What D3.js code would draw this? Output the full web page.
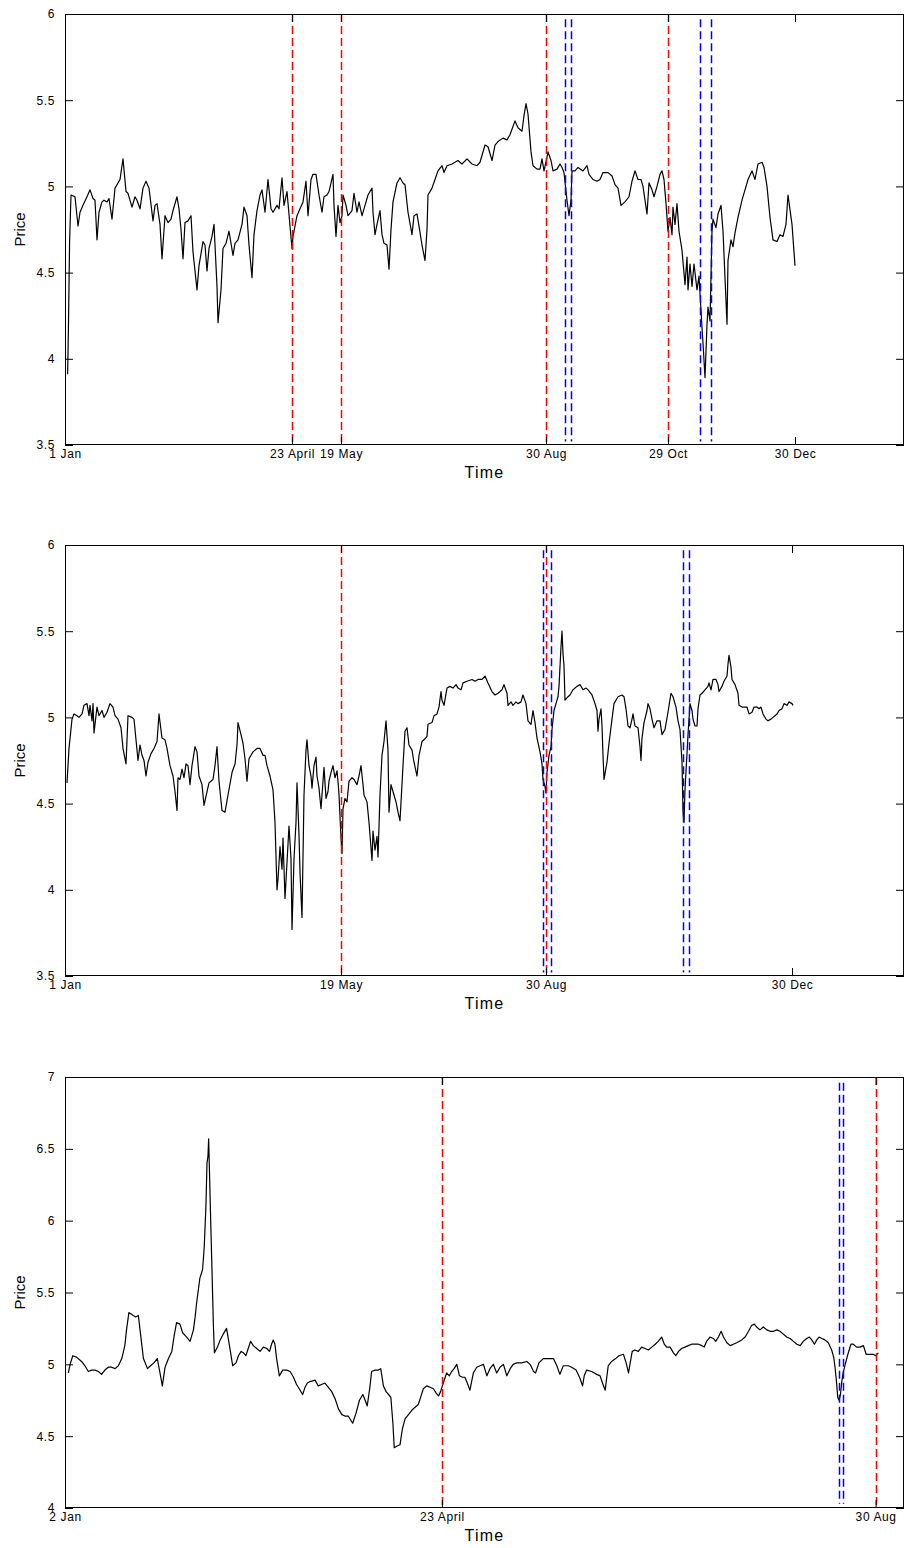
<!DOCTYPE html>
<html>
<head>
<meta charset="utf-8">
<script src="https://cdn.jsdelivr.net/npm/d3@7/dist/d3.min.js"></script>
<style>
body { margin: 0; background: #fff; }
svg { display: block; }
.tick text { font-family: 'Liberation Sans', Arial, sans-serif; font-size: 12px; letter-spacing: 0.6px; fill: #000; }
.tick line { stroke: #000; }
.axis-title { font-family: 'Liberation Sans', Arial, sans-serif; fill: #000; }
</style>
</head>
<body>
<svg id="chart" width="909" height="1548"></svg>
<script>

// Panel 1 : [day, price]

var series1 = [[1.3,3.91],[1.7,4.17],[2.3,4.68],[3,4.95],[5,4.94],[6.5,4.77],[7.5,4.85],[9,4.89],[11,4.94],[12.5,4.98],[14,4.93],[15,4.92],[16,4.69],[17,4.85],[18.5,4.91],[19.5,4.92],[21,4.91],[22,4.93],[23.5,4.81],[25,4.99],[27.5,5.04],[29,5.16],[30.5,4.97],[31.5,4.96],[33.5,4.88],[35,4.94],[36,4.92],[37.5,4.87],[39,4.99],[40.5,5.03],[42,4.99],[44,4.80],[45,4.89],[46,4.90],[47.5,4.78],[48.5,4.58],[50,4.83],[51.5,4.79],[53,4.81],[54,4.86],[56,4.94],[57,4.87],[58,4.75],[59,4.58],[60,4.79],[61.5,4.80],[63,4.83],[64,4.62],[66,4.40],[67,4.54],[69,4.68],[70,4.66],[71,4.51],[72,4.64],[73.5,4.71],[74.5,4.78],[76,4.42],[76.5,4.21],[78,4.40],[79,4.64],[80.5,4.67],[82,4.74],[84,4.60],[85,4.67],[86.5,4.69],[88.5,4.78],[89.5,4.88],[91,4.83],[92,4.66],[93.5,4.47],[94.5,4.72],[96,4.86],[97.5,4.95],[98.5,4.98],[100,4.85],[101.5,5.04],[103,4.87],[104,4.85],[106,4.89],[107,4.87],[108.5,5.05],[109.5,4.89],[111,4.97],[112.5,4.77],[113.5,4.64],[114,4.71],[116,4.83],[117.5,4.87],[119,4.91],[120.5,5.03],[121.5,4.83],[123,5.04],[124,5.07],[125.5,5.07],[127,4.95],[128.5,4.85],[129.5,4.94],[131,4.95],[132,4.97],[134,5.07],[134.5,4.89],[135.5,4.71],[136.5,4.89],[137.5,4.79],[138.5,4.83],[139,4.95],[140.5,4.89],[141.5,4.83],[143.5,4.86],[144.5,4.96],[146,4.85],[147,4.91],[148.5,4.83],[150,4.89],[151.5,4.95],[153.5,4.99],[154,4.85],[155,4.72],[156,4.78],[157.5,4.86],[158.5,4.72],[159.5,4.67],[161,4.66],[162,4.52],[163,4.75],[164,4.91],[166,5.02],[167.5,5.05],[169,5.02],[170,5.01],[171.5,4.85],[173.5,4.72],[174.5,4.83],[176,4.84],[177,4.77],[178.5,4.66],[180,4.57],[181,4.75],[181.5,4.95],[183.5,4.99],[185,5.04],[186.5,5.09],[188.5,5.12],[189.5,5.08],[191,5.12],[193.5,5.13],[195,5.14],[196.5,5.15],[198.5,5.13],[201,5.16],[203.5,5.13],[206,5.12],[207.5,5.14],[210,5.24],[211.5,5.23],[213.5,5.15],[215,5.24],[216.5,5.26],[219,5.28],[221,5.27],[222.5,5.30],[225,5.38],[226.5,5.34],[228.5,5.32],[229.5,5.41],[230.5,5.48],[231.5,5.42],[233,5.20],[234,5.12],[236,5.10],[237.5,5.10],[238.5,5.16],[239.5,5.09],[241,5.17],[241.5,5.20],[243,5.15],[244,5.09],[246,5.10],[247.5,5.13],[248.5,5.11],[249.5,5.08],[251,4.92],[252,4.83],[253,4.92],[253.5,5.09],[255,5.09],[256.5,5.11],[259,5.09],[261,5.12],[262,5.07],[264,5.04],[266,5.03],[267.5,5.04],[269,5.08],[271.5,5.08],[273.5,5.06],[275,5.01],[276.5,4.99],[278,4.89],[280,4.91],[282,4.94],[283.5,5.03],[285,5.09],[286.5,5.04],[288,5.04],[289,5.00],[290,4.92],[291,4.84],[292,5.02],[293.5,4.98],[294.5,4.94],[296,5.00],[297.5,5.07],[298.5,5.09],[299.5,5.04],[300.5,4.90],[301.5,4.74],[302.5,4.82],[303.5,4.72],[304,4.88],[305,4.78],[306,4.90],[307,4.74],[308.5,4.63],[310,4.43],[311,4.59],[311.5,4.40],[312.5,4.55],[313.5,4.42],[314.5,4.55],[316,4.40],[317,4.48],[317.5,4.38],[318.5,4.18],[319,4.09],[320,3.89],[321,4.20],[321.5,4.30],[322.5,4.22],[323.5,4.74],[324,4.81],[325.5,4.76],[326.5,4.84],[328,4.89],[329,4.74],[330,4.47],[331,4.20],[331.5,4.57],[333,4.69],[334,4.65],[335,4.73],[336.5,4.82],[338.5,4.92],[340,4.98],[341.5,5.04],[343.5,5.09],[345,5.04],[346.5,5.13],[348.5,5.14],[349.5,5.11],[351,5.00],[352.5,4.82],[354,4.69],[356,4.68],[357.5,4.72],[359,4.71],[360.5,4.78],[361.5,4.95],[363.5,4.78],[365,4.54]];

var xLim1 = [0, 419.5];
var yLim1 = [3.5, 6];
var yTicks1 = [3.5, 4, 4.5, 5, 5.5, 6];
var xTicks1 = [0, 113.5, 138, 240.5, 301.5, 365];
var xLabels1 = ['1 Jan', '23 April', '19 May', '30 Aug', '29 Oct', '30 Dec'];
var red1 = [113.5, 138, 240.5, 301.5];
var blue1 = [250, 253, 317.5, 323];
var blueSpan1 = [3.52, 5.97];

// Panel 2

var series2 = [[1,4.62],[2,4.82],[3.5,4.99],[4.5,5.02],[6,5.01],[7,5.00],[8.5,5.02],[9.5,5.07],[11,5.08],[12,5.01],[12.5,5.07],[13.5,4.98],[14,5.08],[14.5,4.91],[16,5.06],[17,5.01],[18.5,5.04],[19.5,5.00],[21,5.03],[22.5,5.08],[24,5.06],[25,5.01],[26.5,4.99],[28,4.94],[29,4.82],[30.5,4.73],[31.5,5.01],[33.5,5.00],[34.5,4.99],[35.5,4.87],[36.5,4.75],[37.5,4.84],[38.5,4.78],[39.5,4.75],[40.5,4.66],[41.5,4.74],[43,4.79],[44.5,4.82],[46,4.86],[47,5.02],[48.5,4.88],[50,4.87],[51,4.82],[52.5,4.72],[54,4.66],[55,4.57],[56,4.46],[56.5,4.65],[57.5,4.64],[58.5,4.70],[59.5,4.65],[60.5,4.73],[61.5,4.72],[62.5,4.61],[63.5,4.72],[65,4.83],[66,4.80],[67,4.66],[68.5,4.61],[69.5,4.49],[71,4.57],[72,4.62],[74,4.64],[75,4.72],[76,4.83],[77,4.63],[78.5,4.46],[80,4.45],[81.5,4.55],[83.5,4.68],[85,4.73],[86,4.84],[86.5,4.97],[88,4.90],[89,4.85],[90,4.76],[91,4.63],[92,4.76],[94,4.80],[96,4.82],[97.5,4.82],[99,4.78],[100,4.78],[101,4.72],[102.5,4.66],[104,4.58],[105,4.39],[106,4.00],[106.5,4.06],[107.5,4.25],[108.5,4.12],[109,4.30],[110,3.95],[111,4.16],[112,4.37],[113,4.18],[113.5,3.77],[114.5,4.18],[115.5,4.39],[116,4.62],[117,4.32],[117.5,4.10],[118.5,3.84],[119.5,4.55],[120.5,4.81],[121,4.87],[122,4.72],[123,4.66],[123.5,4.59],[124.5,4.72],[125.5,4.77],[126,4.66],[127,4.59],[128,4.47],[129,4.63],[129.5,4.71],[130.5,4.53],[131.5,4.57],[132,4.63],[133,4.68],[134,4.72],[135,4.65],[136,4.69],[136.5,4.63],[137,4.55],[138,4.30],[138.5,4.21],[139,4.47],[140,4.53],[141,4.51],[142,4.63],[143.5,4.65],[144.5,4.64],[146,4.61],[147,4.66],[148,4.72],[149,4.61],[149.5,4.55],[151,4.51],[152,4.39],[153.5,4.17],[154,4.34],[155,4.23],[156,4.31],[156.5,4.19],[157.5,4.55],[158.5,4.78],[159.5,4.86],[160.5,4.98],[161.5,4.81],[162,4.45],[163,4.61],[164,4.57],[165.5,4.51],[166.5,4.45],[167.5,4.40],[169,4.72],[170,4.92],[171,4.94],[172,4.84],[173.5,4.81],[174.5,4.74],[176,4.66],[177,4.78],[178.5,4.86],[179.5,4.87],[181,4.89],[181.5,4.96],[183.5,4.97],[184.5,5.01],[186,5.02],[187,5.06],[188,5.15],[188.5,5.10],[189.5,5.07],[191,5.17],[192.5,5.18],[194,5.17],[195.5,5.19],[196.5,5.17],[198,5.16],[199,5.20],[201,5.21],[203.5,5.22],[205,5.21],[206.5,5.22],[208.5,5.22],[210,5.24],[211.5,5.20],[213.5,5.15],[215,5.13],[216.5,5.14],[218.5,5.16],[219.5,5.19],[221,5.14],[221.5,5.07],[223,5.09],[224,5.07],[225.5,5.09],[226.5,5.08],[228,5.09],[229,5.13],[230.5,5.08],[231.5,4.98],[233,4.96],[234,5.04],[235,4.97],[236,4.88],[237.5,4.80],[238.5,4.73],[239,4.64],[240,4.60],[240.5,4.56],[241,4.68],[242,4.78],[243,4.83],[243.5,4.93],[244.5,5.04],[245.5,5.08],[246.5,5.12],[247,5.18],[248,5.41],[248.5,5.50],[249,5.37],[249.5,5.30],[250,5.10],[251.5,5.12],[252.5,5.13],[254,5.16],[256,5.18],[257.5,5.19],[259,5.16],[260.5,5.17],[261.5,5.16],[263.5,5.13],[265,5.08],[266,5.04],[266.5,4.92],[267,4.99],[268,5.05],[268.5,4.95],[269,4.78],[269.5,4.64],[271,4.74],[272,4.85],[273.5,4.99],[274.5,5.08],[276.5,5.12],[278.5,5.13],[279.5,5.12],[280.5,5.05],[281.5,4.95],[282.5,4.94],[283.5,4.99],[284,5.02],[285,4.95],[286.5,4.94],[287.5,4.83],[288,4.75],[288.5,4.88],[289.5,4.97],[291,5.04],[291.5,5.08],[292.5,5.05],[293.5,4.99],[294.5,4.94],[296,4.98],[297.5,4.98],[298.5,4.90],[300,4.93],[301.5,5.03],[303,5.14],[304,5.12],[305.5,5.06],[306.5,4.98],[307.5,4.93],[308.5,4.74],[309,4.45],[309.5,4.39],[310,4.58],[311,4.79],[311.5,4.90],[312.5,5.08],[313.5,5.04],[314,4.99],[315,4.95],[316,4.95],[316.5,5.05],[317.5,5.13],[318.5,5.14],[320,5.16],[321.5,5.18],[322,5.20],[323,5.16],[324,5.22],[325.5,5.22],[326.5,5.19],[327,5.15],[328.5,5.18],[329.5,5.21],[331,5.24],[331.5,5.31],[332,5.36],[333,5.29],[333.5,5.22],[335,5.19],[336.5,5.14],[337,5.07],[338.5,5.06],[339.5,5.06],[341,5.06],[342,5.02],[343.5,5.03],[344.5,5.06],[346,5.06],[347,5.05],[348,5.06],[349,5.02],[350.5,4.99],[351.5,4.98],[353,4.99],[354,5.00],[356,5.02],[357,5.04],[358.5,5.05],[359.5,5.08],[361,5.07],[362,5.09],[363.5,5.08],[364,5.07]];

var xLim2 = [0, 419.5];
var yLim2 = [3.5, 6];
var yTicks2 = [3.5, 4, 4.5, 5, 5.5, 6];
var xTicks2 = [0, 138, 240.5, 363.5];
var xLabels2 = ['1 Jan', '19 May', '30 Aug', '30 Dec'];
var red2 = [138, 240.5];
var blue2 = [239, 243, 309, 312];
var blueSpan2 = [3.52, 5.97];

// Panel 3

var series3 = [[2,4.94],[2.5,5.00],[3.3,5.06],[4.4,5.05],[5.9,5.02],[6.9,4.99],[7.9,4.95],[8.9,4.96],[9.9,4.96],[10.9,4.95],[11.8,4.93],[12.8,4.96],[13.8,4.98],[14.8,4.98],[15.8,4.97],[16.8,4.99],[17.8,5.04],[18.7,5.13],[19.2,5.24],[19.9,5.36],[21.2,5.34],[21.9,5.33],[22.7,5.34],[23.2,5.24],[24.2,5.04],[25.4,4.97],[26.3,4.99],[27.3,5.01],[28.3,5.04],[29.1,4.94],[29.8,4.85],[30.6,4.98],[31.6,5.04],[32.6,5.09],[33.3,5.20],[34,5.29],[35,5.28],[35.8,5.22],[37,5.19],[38,5.16],[39,5.24],[39.5,5.33],[39.9,5.42],[40.9,5.60],[41.7,5.66],[42.2,5.82],[42.7,6.11],[43,6.40],[43.3,6.45],[43.5,6.57],[43.7,6.38],[44.1,6.00],[44.5,5.64],[44.9,5.27],[45.2,5.08],[46.1,5.12],[46.9,5.17],[47.8,5.21],[48.8,5.25],[49.8,5.11],[50.6,4.99],[51.6,5.01],[52.3,5.06],[53.1,5.09],[53.8,5.08],[54.5,5.06],[55.2,5.11],[55.9,5.16],[56.7,5.13],[57.7,5.11],[58.7,5.09],[59.7,5.12],[60.7,5.11],[61.5,5.09],[62.1,5.14],[62.6,5.17],[63.1,5.14],[63.6,5.04],[64.4,4.92],[65.4,4.96],[66.6,4.96],[67.6,4.95],[68.6,4.91],[69.5,4.86],[70.3,4.83],[71.3,4.79],[72,4.84],[72.7,4.87],[73.5,4.88],[75,4.89],[75.9,4.85],[76.9,4.86],[77.9,4.87],[78.9,4.84],[79.9,4.81],[80.9,4.76],[81.9,4.69],[82.9,4.65],[83.8,4.64],[84.8,4.64],[86.1,4.59],[87.1,4.66],[88.1,4.75],[89.1,4.79],[89.8,4.75],[90.4,4.71],[91.2,4.84],[91.7,4.95],[92.7,4.96],[93.7,4.96],[94.4,4.97],[95.2,4.85],[96,4.81],[96.7,4.79],[97.4,4.77],[98,4.59],[98.4,4.42],[99.1,4.43],[100.1,4.44],[100.8,4.55],[101.6,4.62],[102.6,4.65],[103.6,4.68],[104.5,4.70],[105.5,4.72],[106.2,4.77],[107,4.83],[108,4.85],[109,4.84],[110,4.83],[110.8,4.80],[111.5,4.78],[112.1,4.81],[112.9,4.87],[113.9,4.94],[114.7,4.92],[115.4,4.95],[116.1,4.97],[116.9,5.00],[117.7,4.92],[118.6,4.91],[119.3,4.91],[120,4.87],[120.8,4.82],[121.8,4.94],[122.8,4.98],[123.8,4.99],[124.8,5.00],[125.8,4.92],[126.7,4.97],[127.7,5.00],[128.7,4.94],[129.7,4.98],[130.7,5.00],[131.7,4.92],[132.7,4.97],[133.6,5.00],[134.6,5.01],[136.1,5.01],[137.6,5.02],[138.6,5.00],[139.6,4.95],[140.2,4.94],[141.2,5.01],[142.5,5.04],[144,5.04],[145.5,5.04],[146.5,4.99],[147.4,4.93],[148.4,4.99],[149.9,4.99],[150.9,4.98],[152.2,4.96],[153.4,4.90],[154.1,4.85],[154.6,4.92],[155.3,4.96],[156.8,4.95],[158.3,4.93],[159.3,4.92],[160,4.87],[160.8,4.82],[161.7,4.99],[162.7,5.02],[163.9,5.04],[164.9,5.06],[166.2,5.07],[167,5.01],[167.7,4.94],[168.2,5.01],[168.8,5.09],[169.6,5.10],[170.6,5.09],[171.6,5.12],[172.6,5.11],[173.6,5.10],[174.6,5.12],[175.6,5.14],[176.5,5.16],[177.5,5.19],[178.3,5.14],[179,5.12],[180,5.12],[181,5.08],[181.7,5.06],[182.5,5.09],[183.4,5.11],[184.4,5.12],[185.4,5.13],[186.4,5.14],[187.4,5.14],[188.4,5.14],[189.4,5.13],[190.1,5.12],[190.8,5.16],[191.8,5.19],[192.8,5.18],[193.5,5.16],[194.3,5.19],[195.1,5.23],[195.8,5.19],[196.8,5.15],[197.8,5.13],[198.7,5.14],[199.7,5.15],[201.2,5.17],[202.2,5.19],[203.2,5.23],[204.1,5.27],[204.9,5.28],[205.6,5.26],[206.6,5.24],[207.6,5.26],[208.6,5.24],[209.6,5.23],[210.6,5.23],[211.6,5.24],[212.5,5.23],[213.5,5.21],[214.5,5.19],[215.5,5.18],[216.5,5.16],[217.5,5.14],[218.5,5.13],[219.4,5.16],[220.4,5.18],[221.2,5.19],[221.9,5.17],[222.7,5.14],[223.4,5.17],[224.1,5.19],[224.9,5.18],[225.8,5.17],[226.8,5.15],[227.8,5.10],[228.4,5.05],[228.8,4.98],[229.3,4.86],[229.6,4.77],[230,4.75],[230.4,4.79],[230.8,4.88],[231.2,4.94],[231.8,5.00],[232.6,5.07],[233.5,5.14],[234.2,5.14],[235.2,5.12],[236.2,5.12],[237.2,5.13],[238,5.07],[239.2,5.07],[240.1,5.07],[240.8,5.06],[241.6,5.08]];

var xLim3 = [1, 249.2];
var yLim3 = [4, 7];
var yTicks3 = [4, 4.5, 5, 5.5, 6, 6.5, 7];
var xTicks3 = [1, 112.5, 240.8];
var xLabels3 = ['2 Jan', '23 April', '30 Aug'];
var red3 = [112.5, 240.8];
var blue3 = [230, 231.1];
var blueSpan3 = [4.03, 6.96];


var svg = d3.select('#chart');

var left = 65,
	right = 904,
	plotH = 431,
	tickLen = 8;

// snap a vertical marker to the pixel grid so dashes stay crisp
function snap(v) { return Math.round(v) + 0.5; }

function drawPanel(top, series, xLim, yLim, yTicks, xTicks, xLabels, redDays, blueDays, blueSpan) {

	var g = svg.append('g')
		.attr('transform', 'translate(0,' + top + ')');

	var x = d3.scaleLinear().domain(xLim).range([left, right]);
	var y = d3.scaleLinear().domain(yLim).range([plotH, 0]);

	// price line

	var line = d3.line()
		.x(function(d){ return x(d[0]); })
		.y(function(d){ return y(d[1]); });

	g.append('path')
		.datum(series)
		.attr('d', line)
		.attr('fill', 'none')
		.attr('stroke', '#000')
		.attr('stroke-width', 1.2)
		.attr('stroke-linejoin', 'round');

	// red and blue dashed markers

	g.selectAll('line.red')
		.data(redDays)
		.enter().append('line')
		.attr('class', 'red')
		.attr('x1', function(d){ return snap(x(d)); })
		.attr('x2', function(d){ return snap(x(d)); })
		.attr('y1', y(yLim[1]))
		.attr('y2', y(yLim[0]))
		.attr('stroke', '#ff0000')
		.attr('stroke-width', 1.5)
		.attr('stroke-dasharray', '8,4');

	g.selectAll('line.blue')
		.data(blueDays)
		.enter().append('line')
		.attr('class', 'blue')
		.attr('x1', function(d){ return snap(x(d)); })
		.attr('x2', function(d){ return snap(x(d)); })
		.attr('y1', y(blueSpan[1]))
		.attr('y2', y(blueSpan[0]))
		.attr('stroke', '#0000ff')
		.attr('stroke-width', 1.5)
		.attr('stroke-dasharray', '8,4');

	// axes, ticks pointing inward

	g.append('g')
		.attr('transform', 'translate(0,' + plotH + ')')
		.call(d3.axisBottom(x).tickValues(xTicks)
			.tickFormat(function(d, i){ return xLabels[i]; })
			.tickSizeInner(-tickLen).tickSizeOuter(0).tickPadding(4))
		.call(function(a){ a.select('.domain').remove(); });

	g.append('g')
		.call(d3.axisTop(x).tickValues(xTicks).tickFormat('')
			.tickSizeInner(-tickLen).tickSizeOuter(0))
		.call(function(a){ a.select('.domain').remove(); });

	g.append('g')
		.attr('transform', 'translate(' + left + ',0)')
		.call(d3.axisLeft(y).tickValues(yTicks).tickFormat(d3.format(''))
			.tickSizeInner(-tickLen).tickSizeOuter(0).tickPadding(10))
		.call(function(a){ a.select('.domain').remove(); });

	g.append('g')
		.attr('transform', 'translate(' + right + ',0)')
		.call(d3.axisRight(y).tickValues(yTicks).tickFormat('')
			.tickSizeInner(-tickLen).tickSizeOuter(0))
		.call(function(a){ a.select('.domain').remove(); });

	g.append('rect')
		.attr('x', left + 0.5)
		.attr('y', 0.5)
		.attr('width', right - left - 1)
		.attr('height', plotH - 1)
		.attr('fill', 'none')
		.attr('stroke', '#000')
		.attr('stroke-width', 1);

	// axis titles

	g.append('text')
		.attr('class', 'axis-title')
		.attr('x', (left + right) / 2)
		.attr('y', plotH + 33)
		.attr('text-anchor', 'middle')
		.style('font-size', '16px')
		.style('letter-spacing', '1.3px')
		.text('Time');

	g.append('text')
		.attr('class', 'axis-title')
		.attr('transform', 'translate(25,' + (plotH / 2) + ') rotate(-90)')
		.attr('text-anchor', 'middle')
		.style('font-size', '15px')
		.text('Price');
}

drawPanel(14, series1, xLim1, yLim1, yTicks1, xTicks1, xLabels1, red1, blue1, blueSpan1);
drawPanel(545, series2, xLim2, yLim2, yTicks2, xTicks2, xLabels2, red2, blue2, blueSpan2);
drawPanel(1077, series3, xLim3, yLim3, yTicks3, xTicks3, xLabels3, red3, blue3, blueSpan3);

</script>
</body>
</html>
